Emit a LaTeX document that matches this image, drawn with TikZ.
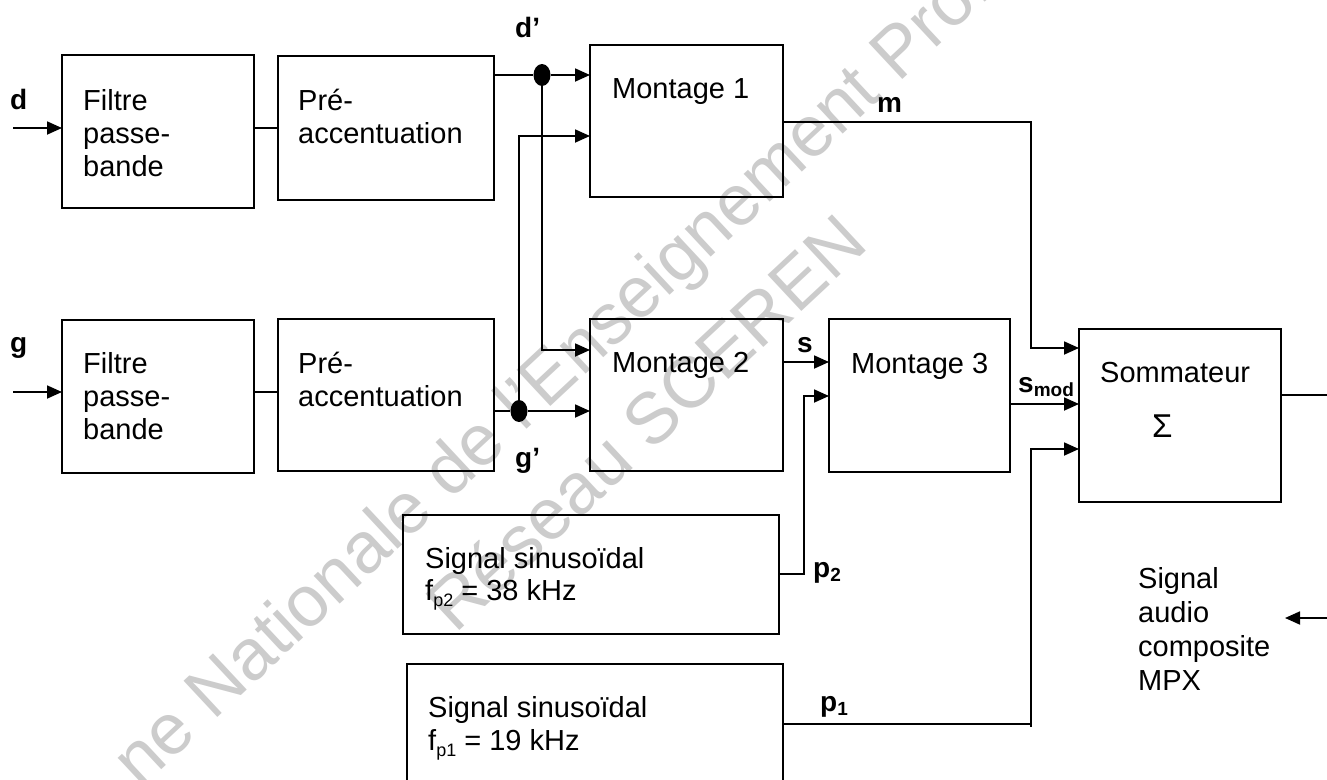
\documentclass[tikz,border=0pt]{standalone}
\usepackage{fontspec}
\setmainfont{Liberation Sans}
\usetikzlibrary{shapes.geometric,arrows.meta}
\newcommand\mybox[5]{\node[box,minimum width={#4-#2},minimum height={#5-#3}] (#1) at ({(#2+#4)/2},{(#3+#5)/2}) {};}
\newcommand\subr[1]{\raisebox{-6pt}{\fontsize{18}{18}\selectfont #1}}
\newcommand\subb[1]{\raisebox{-4pt}{\fontsize{19}{19}\selectfont\bfseries #1}}
\begin{document}
\begin{tikzpicture}[x=1pt,y=-1pt,
  box/.style={draw,line width=1.8pt,inner sep=0pt,outer sep=0pt},
  txt/.style={anchor=base west,inner sep=0pt,font=\fontsize{29}{33}\selectfont},
  lbl/.style={anchor=base west,inner sep=0pt,font=\fontsize{28}{33}\selectfont\bfseries},
  wire/.style={line width=1.8pt},
  arr/.style={wire,-{Triangle[length=15pt,width=13pt]}},
  jdot/.style={ellipse,fill=black,minimum width=17pt,minimum height=22pt,inner sep=0pt},
  wm/.style={anchor=base west,inner sep=0pt,text=black!20,font=\fontsize{72}{72}\selectfont,rotate=43}]
\useasboundingbox (0,0) rectangle (1327,779);
\clip (0,0) rectangle (1327,779);
\fill[white] (0,0) rectangle (1327,779);
% watermark
\node[wm] (wm1) at (140,790) {ne Nationale de l'Enseignement Professionnel};
\node[wm] (wm2) at (455,635) {Réseau SCEREN};
% boxes
\mybox{fpb1}{62}{55}{254}{208}
\mybox{fpb2}{62}{320}{254}{473}
\mybox{pre1}{278}{56}{494}{200}
\mybox{pre2}{278}{319}{494}{471}
\mybox{m1}{590}{45}{783}{197}
\mybox{m2}{590}{319}{783}{471}
\mybox{m3}{829}{319}{1010}{472}
\mybox{som}{1079}{329}{1281}{502}
\mybox{sig2}{403}{515}{779}{634}
\mybox{sig1}{407}{664}{783}{800}
% box texts
\node[txt] (tf1) at (83,110) {\vtop{\hbox{Filtre}\hbox{passe-}\hbox{bande}}};
\node[txt] (tf2) at (83,373) {\vtop{\hbox{Filtre}\hbox{passe-}\hbox{bande}}};
\node[txt] (tp1) at (298,110) {\vtop{\hbox{Pré-}\hbox{accentuation}}};
\node[txt] (tp2) at (298,373) {\vtop{\hbox{Pré-}\hbox{accentuation}}};
\node[txt] (tm1) at (612,98) {Montage 1};
\node[txt] (tm2) at (612,372) {Montage 2};
\node[txt] (tm3) at (851,373) {Montage 3};
\node[txt] (ts) at (1100,382) {Sommateur};
\node[txt,font=\fontsize{33}{33}\selectfont] (tsig) at (1152,437) {Σ};
\node[txt] (ts2) at (425,568) {\vtop{\baselineskip=32pt\hbox{Signal sinusoïdal}\hbox{f\subr{p2} = 38 kHz}}};
\node[txt] (ts1) at (428,717) {\vtop{\baselineskip=33pt\hbox{Signal sinusoïdal}\hbox{f\subr{p1} = 19 kHz}}};
\node[txt] (tmpx) at (1138,588) {\vtop{\baselineskip=34pt\hbox{Signal}\hbox{audio}\hbox{composite}\hbox{MPX}}};
% labels
\node[lbl] (ld) at (10,109) {d};
\node[lbl] (lg) at (10,352) {g};
\node[lbl] (ldp) at (515,37) {d’};
\node[lbl] (lgp) at (515,467) {g’};
\node[lbl] (lm) at (877,112) {m};
\node[lbl] (ls) at (797,352) {s};
\node[lbl] (lsm) at (1018,392) {s\subb{mod}};
\node[lbl] (lp2) at (813,577) {p\subb{2}};
\node[lbl] (lp1) at (820,711) {p\subb{1}};
% coordinates
\coordinate (din) at (13,128);
\coordinate (gin) at (13,392);
\coordinate (c1) at (266,128);
\coordinate (c2) at (266,392);
\node[jdot] (dd) at (542,75) {};
\node[jdot] (gg) at (519,411) {};
\coordinate (dv) at (542,350);
\coordinate (gv) at (519,136);
\coordinate (mc) at (1031,122);
\coordinate (ms) at (1031,348);
\coordinate (sc) at (800,362);
\coordinate (p2a) at (804,574);
\coordinate (p2b) at (804,396);
\coordinate (smc) at (1040,404);
\coordinate (p1a) at (1031,724);
\coordinate (p1b) at (1031,449);
\coordinate (out) at (1327,395);
\coordinate (mpx) at (1327,618);
\coordinate (mpxe) at (1285,618);
% connectors
\draw[arr] (din) -- (fpb1.west |- din);
\draw[arr] (gin) -- (fpb2.west |- gin);
\draw[wire] (fpb1.east |- c1) -- (pre1.west |- c1);
\draw[wire] (fpb2.east |- c2) -- (pre2.west |- c2);
\draw[wire] (pre1.east |- dd) -- (dd);
\draw[arr] (dd) -- (m1.west |- dd);
\draw[wire] (pre2.east |- gg) -- (gg);
\draw[arr] (gg) -- (m2.west |- gg);
\draw[arr] (dd.center) -- (dv) -- (m2.west |- dv);
\draw[arr] (gg.center) -- (gv) -- (m1.west |- gv);
\draw[arr] (m1.east |- mc) -- (mc) -- (ms) -- (som.west |- ms);
\draw[arr] (m2.east |- sc) -- (m3.west |- sc);
\draw[arr] (sig2.east |- p2a) -- (p2a) -- (p2b) -- (m3.west |- p2b);
\draw[arr] (m3.east |- smc) -- (som.west |- smc);
\draw[wire] (p1a) -- ++(0,3);
\draw[arr] (sig1.east |- p1a) -- (p1a) -- (p1b) -- (som.west |- p1b);
\draw[wire] (som.east |- out) -- (out);
\draw[arr] (mpx) -- (mpxe);
\end{tikzpicture}
\end{document}
